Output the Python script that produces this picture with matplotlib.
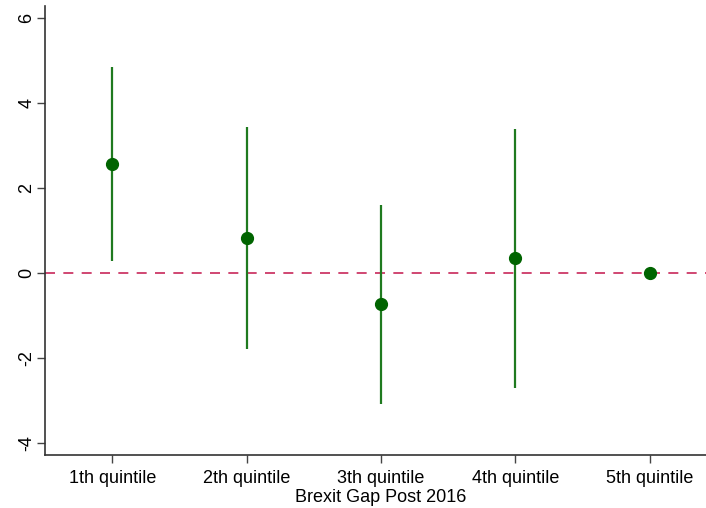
import numpy as np
import matplotlib
matplotlib.use("Agg")
import matplotlib.pyplot as plt

plt.rcParams["font.family"] = ["Liberation Sans", "DejaVu Sans"]
plt.rcParams["axes.unicode_minus"] = False

quintiles = ["1th quintile", "2th quintile", "3th quintile", "4th quintile", "5th quintile"]
coef = [2.58, 0.83, -0.73, 0.35, 0.0]
ci_low = [0.29, -1.79, -3.08, -2.71, np.nan]
ci_high = [4.85, 3.44, 1.60, 3.39, np.nan]

W, H = 706, 508
fig = plt.figure(figsize=(W / 100, H / 100), dpi=100)
# plot region runs past the right edge, as in the cropped original
ax = fig.add_axes([45 / W, 1 - 455 / H, (717 - 45) / W, (455 - 6) / H])

x = np.arange(1, len(quintiles) + 1)
ax.axhline(0, color="#c8285a", lw=1.2, dashes=(6, 5), zorder=1)
for xi, lo, hi in zip(x, ci_low, ci_high):
    if not np.isnan(lo):
        ax.vlines(xi, lo, hi, color="#1f7a1f", lw=1.6, zorder=2)
ax.plot(x, coef, "o", color="#006400", ms=8.5, zorder=3)

ax.set_xlim(0.5, 5.5)
ax.set_ylim(-4.28, 6.29)
ax.set_yticks([-4, -2, 0, 2, 4, 6])
ax.set_xticks(x)
ax.set_xticklabels(quintiles)
for lab in ax.get_yticklabels():
    lab.set_rotation(90)
    lab.set_verticalalignment("center")
ax.tick_params(labelsize=13, length=6, width=1, color="#444444")
ax.tick_params(axis="x", pad=5)
ax.tick_params(axis="y", pad=1)
ax.set_xlabel("Brexit Gap Post 2016", fontsize=13, labelpad=1)

for s in ["top", "right"]:
    ax.spines[s].set_visible(False)
for s in ["left", "bottom"]:
    ax.spines[s].set_linewidth(1.2)
    ax.spines[s].set_color("#333333")

fig.savefig("out.png", dpi=100)
